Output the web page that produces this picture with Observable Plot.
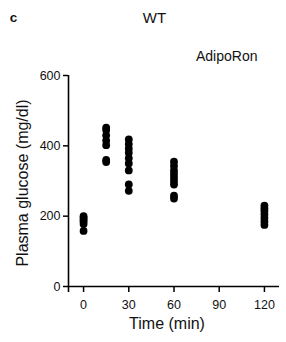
<!DOCTYPE html>
<html>
<head>
<meta charset="utf-8">
<script src="https://cdn.jsdelivr.net/npm/d3@7"></script>
<script src="https://cdn.jsdelivr.net/npm/@observablehq/plot@0.6"></script>
<style>
  html, body { margin: 0; padding: 0; background: #fff; }
  svg { font-family: "Liberation Sans", Arial, sans-serif; }
</style>
</head>
<body>
<div id="chart"></div>
<script>
// Time points (min) and plasma glucose values (mg/dl) per animal
const times = [0, 15, 30, 60, 120];
const glucose0 = [200, 195, 190, 185, 178, 158];
const glucose15 = [452, 445, 430, 415, 402, 360, 354];
const glucose30 = [418, 405, 392, 380, 365, 350, 330, 290, 272];
const glucose60 = [355, 343, 330, 320, 310, 300, 290, 258, 250];
const glucose120 = [230, 222, 215, 205, 195, 185, 175];
const xTicks = [0, 30, 60, 90, 120];
const yTicks = [0, 200, 400, 600];
const panelLetter = "c";
const title = "WT";
const treatment = "AdipoRon";
const xLabel = "Time (min)";
const yLabel = "Plasma glucose (mg/dl)";

const series = [glucose0, glucose15, glucose30, glucose60, glucose120];
const points = series.flatMap((vals, i) => vals.map(v => ({time: times[i], glucose: v})));

const chart = Plot.plot({
  width: 286,
  height: 342,
  marginLeft: 68,
  marginRight: 7,
  marginTop: 75,
  marginBottom: 56,
  style: {fontFamily: '"Liberation Sans", Arial, sans-serif', background: "#fff", overflow: "visible"},
  x: {domain: [-10, 130]},
  y: {domain: [0, 600]},
  marks: [
    Plot.ruleX([-10], {y1: -17, y2: 600, stroke: "#000", strokeWidth: 1.6}),
    Plot.ruleY([0], {x1: -10, x2: 130, stroke: "#000", strokeWidth: 1.6}),
    Plot.axisY({ticks: yTicks, tickSize: 5, tickPadding: 3, fontSize: 12.5, label: null, strokeWidth: 1.5, fill: "#111"}),
    Plot.axisX({ticks: xTicks, tickSize: 6, tickPadding: 8, fontSize: 12.5, label: null, strokeWidth: 1.5, fill: "#111"}),
    Plot.dot(points, {x: "time", y: "glucose", r: 3.9, fill: "#000", stroke: "none"}),
    Plot.text([xLabel], {frameAnchor: "bottom", dx: -7, dy: 37, lineAnchor: "middle", fontSize: 16, fill: "#111"}),
    Plot.text([yLabel], {frameAnchor: "left", dx: -46, dy: 2, rotate: -90, textAnchor: "middle", lineAnchor: "middle", fontSize: 16, fill: "#111"}),
    Plot.text([{t: panelLetter}], {text: "t", frameAnchor: "top-left", dx: -55, dy: -58, textAnchor: "middle", lineAnchor: "middle", fontSize: 13.5, fontWeight: "bold", fill: "#111"}),
    Plot.text([title], {frameAnchor: "top-left", dx: 86, dy: -57, textAnchor: "middle", lineAnchor: "middle", fontSize: 15, fill: "#111"}),
    Plot.text([treatment], {frameAnchor: "top-right", dx: -22, dy: -19, textAnchor: "end", lineAnchor: "middle", fontSize: 14, fill: "#111"})
  ]
});
document.getElementById("chart").appendChild(chart);
</script>
</body>
</html>
